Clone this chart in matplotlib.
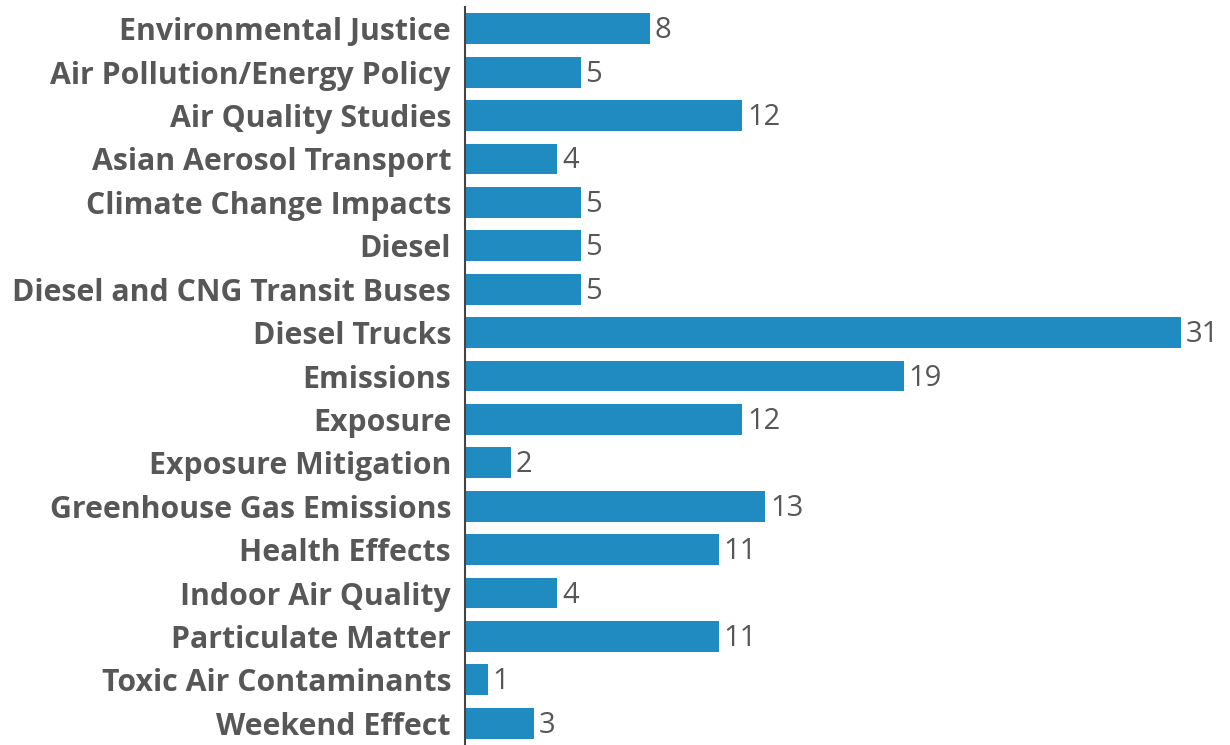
import matplotlib.pyplot as plt
from matplotlib.transforms import ScaledTranslation

# topics and number of studies for each
topics = ["Environmental Justice", "Air Pollution/Energy Policy", "Air Quality Studies",
          "Asian Aerosol Transport", "Climate Change Impacts", "Diesel",
          "Diesel and CNG Transit Buses", "Diesel Trucks", "Emissions", "Exposure",
          "Exposure Mitigation", "Greenhouse Gas Emissions", "Health Effects",
          "Indoor Air Quality", "Particulate Matter", "Toxic Air Contaminants",
          "Weekend Effect"]
counts = [8, 5, 12, 4, 5, 5, 5, 31, 19, 12, 2, 13, 11, 4, 11, 1, 3]

bar_color = "#1f8bc0"
text_color = "#575757"

fig = plt.figure(figsize=(12.3, 7.45), dpi=100)
ax = fig.add_axes([465 / 1230, 0.0, 1 - 465 / 1230, 738 / 745])

pos = list(range(len(topics)))
bars = ax.barh(pos, counts, height=0.71, color=bar_color)

# value labels sit on a baseline a little below the bar centre
val_shift = ScaledTranslation(0, -0.095, fig.dpi_scale_trans)
for b, v in zip(bars, counts):
    ax.text(b.get_width() + 0.2, b.get_y() + b.get_height() / 2, str(v),
            va="baseline", ha="left", fontsize=21, color=text_color, family="Open Sans",
            transform=ax.transData + val_shift)

# category names, right aligned against the axis line
lbl_shift = ScaledTranslation(-0.14, -0.115, fig.dpi_scale_trans)
for p, name in zip(pos, topics):
    ax.text(0, p, name, ha="right", va="baseline", fontsize=21.8, fontweight="bold",
            color=text_color, family="Open Sans",
            transform=ax.get_yaxis_transform() + lbl_shift)

ax.set_yticks([])
ax.set_xticks([])
ax.set_ylim(16.5, -0.5)
ax.set_xlim(0, (1230 - 465) / 23.1)

for side in ["top", "right", "bottom"]:
    ax.spines[side].set_visible(False)
ax.spines["left"].set_color("#444444")
ax.spines["left"].set_linewidth(1.5)

plt.savefig("out.png", dpi=100)
